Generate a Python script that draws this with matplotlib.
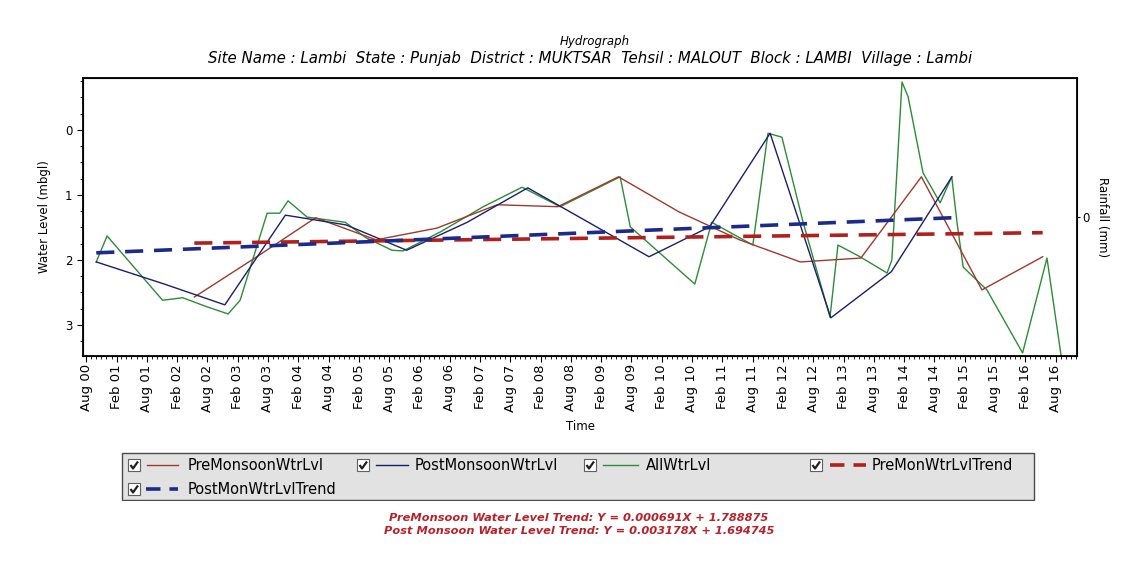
import matplotlib
matplotlib.use('Agg')
import matplotlib.pyplot as plt
import matplotlib.dates as mdates
import numpy as np
import pandas as pd
from matplotlib.patches import Rectangle

plt.rcParams['font.family'] = ['DejaVu Sans']

# ---------------- data (water level, mbgl) ----------------
pre_dates = ['2002-05-15', '2003-05-15', '2004-05-15', '2005-05-15', '2006-05-15',
             '2007-05-15', '2008-05-15', '2009-05-15', '2010-05-15', '2011-05-15',
             '2012-05-15', '2013-05-15', '2014-05-15', '2015-05-15', '2016-05-15']
pre_level = [2.57, 1.97, 1.35, 1.69, 1.51, 1.15, 1.18, 0.72, 1.26, 1.69,
             2.03, 1.97, 0.72, 2.46, 1.95]

post_dates = ['2000-10-01', '2001-11-15', '2002-11-15', '2003-11-15', '2004-11-15',
              '2005-11-15', '2006-11-15', '2007-11-15', '2008-11-15', '2009-11-15',
              '2010-11-15', '2011-11-15', '2012-11-15', '2013-11-15', '2014-11-15']
post_level = [2.03, 2.37, 2.69, 1.31, 1.46, 1.85, 1.42, 0.89, 1.42, 1.95,
              1.49, 0.05, 2.89, 2.18, 0.72]

all_dates = ['2000-10-01', '2000-12-05', '2001-11-05', '2002-03-05', '2002-07-30',
             '2002-12-05', '2003-02-15', '2003-07-28', '2003-10-12', '2003-12-01',
             '2004-03-25', '2004-11-10', '2005-03-10', '2005-08-18', '2005-10-25',
             '2006-06-05', '2007-02-20', '2007-10-12', '2008-05-28', '2009-05-25',
             '2009-07-25', '2010-08-18', '2010-11-28', '2011-08-03', '2011-11-02',
             '2012-01-25', '2012-06-02', '2012-11-10', '2012-12-28', '2013-05-10',
             '2013-10-20', '2013-11-18', '2014-01-18', '2014-02-24', '2014-05-25',
             '2014-09-05', '2014-11-14', '2014-12-16', '2015-01-22', '2015-06-14',
             '2016-01-15', '2016-06-10', '2016-09-08']
all_level = [2.03, 1.63, 2.62, 2.58, 2.72,
             2.83, 2.62, 1.28, 1.28, 1.09,
             1.34, 1.42, 1.65, 1.85, 1.86,
             1.57, 1.18, 0.88, 1.18, 0.72,
             1.49, 2.37, 1.42, 1.77, 0.05,
             0.11, 1.43, 2.88, 1.77, 1.95,
             2.20, 2.00, -0.74, -0.51, 0.66,
             1.12, 0.72, 1.43, 2.11, 2.46,
             3.43, 1.97, 3.56]

pre_trend_dates = ['2002-05-15', '2016-05-15']
pre_trend_level = [1.74, 1.58]
post_trend_dates = ['2000-10-01', '2014-11-15']
post_trend_level = [1.89, 1.35]

y_ticks = [0, 1, 2, 3]

title = 'Hydrograph'
subtitle = ('Site Name : Lambi  State : Punjab  District : MUKTSAR  Tehsil : MALOUT  '
            'Block : LAMBI  Village : Lambi')
eq_pre = 'PreMonsoon Water Level Trend: Y = 0.000691X + 1.788875'
eq_post = 'Post Monsoon Water Level Trend: Y = 0.003178X + 1.694745'

# colours
c_pre = '#9b3b2e'
c_post = '#1b1f6b'
c_all = '#2e8b3a'
c_pre_tr = '#b0201c'
c_post_tr = '#1c2a8c'

W, H = 1144, 562
fig = plt.figure(figsize=(W / 100, H / 100), dpi=100)
fig.patch.set_facecolor('white')

def fx(px):
    return px / W

def fy(py):
    return 1 - py / H

ax = fig.add_axes([fx(83), fy(356), (1077 - 83) / W, (356 - 78) / H])

d = pd.to_datetime
ax.plot(d(pre_dates), pre_level, color=c_pre, lw=1.0, zorder=3)
ax.plot(d(post_dates), post_level, color=c_post, lw=1.0, zorder=3)
ax.plot(d(all_dates), all_level, color=c_all, lw=1.0, zorder=2)
ax.plot(d(pre_trend_dates), pre_trend_level, color=c_pre_tr, lw=2.6,
        dashes=(5, 3), zorder=4)
ax.plot(d(post_trend_dates), post_trend_level, color=c_post_tr, lw=2.6,
        dashes=(5, 3), zorder=4)

ax.set_xlim(d('2000-07-13'), d('2016-12-08'))
ax.set_ylim(3.477, -0.8)
ax.set_yticks(y_ticks)
ax.set_yticks(np.arange(-0.75, 3.5, 0.25), minor=True)

ticks = pd.date_range('2000-08-01', '2016-08-01', freq='6MS')
ax.set_xticks(ticks)
ax.xaxis.set_major_formatter(mdates.DateFormatter('%b %y'))
ax.xaxis.set_minor_locator(mdates.MonthLocator())
ax.tick_params(axis='x', which='major', labelrotation=90, labelsize=9.5,
               direction='out', length=4, pad=2)
ax.tick_params(axis='x', which='minor', direction='out', length=2)
ax.tick_params(axis='y', which='major', labelsize=8.5, direction='out', length=4)
ax.tick_params(axis='y', which='minor', direction='out', length=2)
for s in ax.spines.values():
    s.set_linewidth(1.3)

ax.set_xlabel('Time', fontsize=8.5, labelpad=6)
ax.set_ylabel('Water Level (mbgl)', fontsize=8.5, labelpad=10)

ax2 = ax.twinx()
ax2.set_ylim(-1, 1)
ax2.set_yticks([0])
ax2.tick_params(axis='y', labelsize=8.5, direction='out', length=2, pad=2)
ax2.set_ylabel('Rainfall (mm)', fontsize=8.5, rotation=270, labelpad=14)

fig.text(fx(595), fy(41), title, ha='center', va='center', fontsize=8.5,
         style='italic')
fig.text(fx(590), fy(58), subtitle, ha='center', va='center', fontsize=10.8,
         style='italic')

# ---------------- legend ----------------
lax = fig.add_axes([fx(120), fy(501), (1036 - 120) / W, (501 - 452) / H])
lax.set_xlim(120, 1036)
lax.set_ylim(501, 452)
lax.axis('off')
lax.add_patch(Rectangle((122, 453), 912, 47, facecolor='#e2e2e2',
                        edgecolor='#4a4a4a', lw=1.0))

def checkbox(x, y):
    lax.add_patch(Rectangle((x, y - 6), 12, 12, facecolor='white',
                            edgecolor='#606060', lw=0.8, zorder=3))
    lax.plot([x + 2.5, x + 5, x + 10], [y, y + 3.5, y - 3.5], color='#202020',
             lw=1.6, zorder=4, solid_capstyle='butt')

entries = [
    (128, 465, 147, 178, c_pre, '-', 1.0, 'PreMonsoonWtrLvl', 188),
    (357, 465, 376, 408, c_post, '-', 1.0, 'PostMonsoonWtrLvl', 415),
    (584, 465, 603, 638, c_all, '-', 1.0, 'AllWtrLvl', 646),
    (810, 465, 830, 866, c_pre_tr, '--', 2.6, 'PreMonWtrLvlTrend', 872),
    (128, 489, 146, 178, c_post_tr, '--', 2.6, 'PostMonWtrLvlTrend', 188),
]
for cx, cy, x0, x1, col, ls, lw, lab, tx in entries:
    checkbox(cx, cy)
    if ls == '--':
        lax.plot([x0, x1], [cy, cy], color=col, lw=lw, dashes=(4, 2.5))
    else:
        lax.plot([x0, x1], [cy, cy], color=col, lw=lw)
    lax.text(tx, cy, lab, ha='left', va='center', fontsize=10.5)

fig.text(fx(579), fy(518), eq_pre, ha='center', va='center', fontsize=8.2,
         style='italic', weight='bold', color='#b5232a')
fig.text(fx(579), fy(531), eq_post, ha='center', va='center', fontsize=8.2,
         style='italic', weight='bold', color='#b5232a')

fig.savefig('out.png', dpi=100)
